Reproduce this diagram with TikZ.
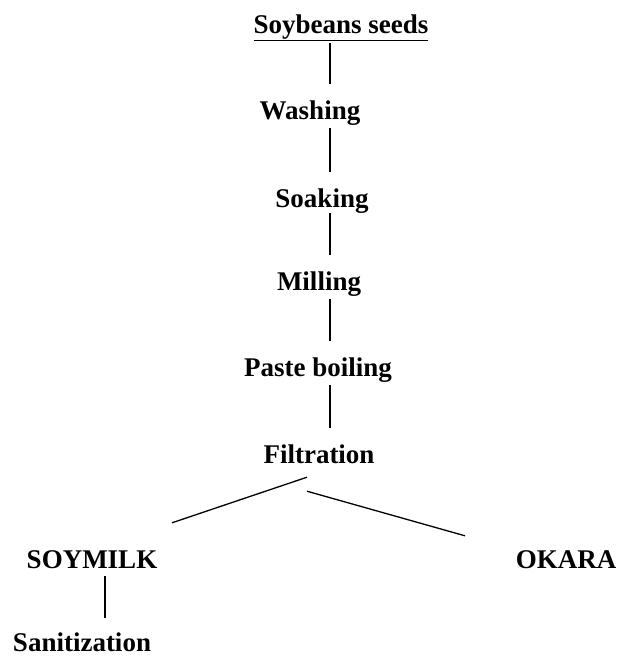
\documentclass[tikz,border=0pt]{standalone}
\usepackage{fontspec}
\setmainfont{Liberation Serif}
\begin{document}
\begin{tikzpicture}[x=1pt,y=-1pt,
  lbl/.style={anchor=base,inner sep=0pt,text height=18pt,text depth=0pt,font=\fontsize{27}{32}\selectfont\bfseries},
  conn/.style={line width=1.3pt,shorten <=9pt,shorten >=17pt},
  seg/.style={line width=1.3pt}]
\useasboundingbox (0,0) rectangle (619,656);
\node[lbl] (soy) at (341,33) {\underline{Soybeans seeds}};
\node[lbl] (wash) at (310,119) {Washing};
\node[lbl] (soak) at (322,207) {Soaking};
\node[lbl] (mill) at (319,290) {Milling};
\node[lbl] (paste) at (318,376) {Paste boiling};
\node[lbl] (filt) at (319,463) {Filtration};
\node[lbl] (milk) at (92,568) {SOYMILK};
\node[lbl] (okara) at (566,568) {OKARA};
\node[lbl] (san) at (82,651) {Sanitization};
\coordinate (spine) at (330,0);
\coordinate (spine2) at (105,0);
\draw[conn,shorten <=10pt] (soy.south -| spine) -- (wash.north -| spine);
\draw[conn] (wash.south -| spine) -- (soak.north -| spine);
\draw[conn,shorten <=6pt] (soak.south -| spine) -- (mill.north -| spine);
\draw[conn] (mill.south -| spine) -- (paste.north -| spine);
\draw[conn] (paste.south -| spine) -- (filt.north -| spine);
\coordinate (f1) at ([xshift=-12pt,yshift=-14pt]filt.south);
\coordinate (f2) at ([xshift=-12pt,yshift=-28pt]filt.south);
\coordinate (m1) at ([xshift=80pt,yshift=27pt]milk.north);
\coordinate (o1) at ([xshift=-101pt,yshift=14pt]okara.north);
\draw[seg] (f1) -- (m1);
\draw[seg] (f2) -- (o1);
\draw[conn,shorten <=8pt,shorten >=15pt] (milk.south -| spine2) -- (san.north -| spine2);
\end{tikzpicture}
\end{document}
